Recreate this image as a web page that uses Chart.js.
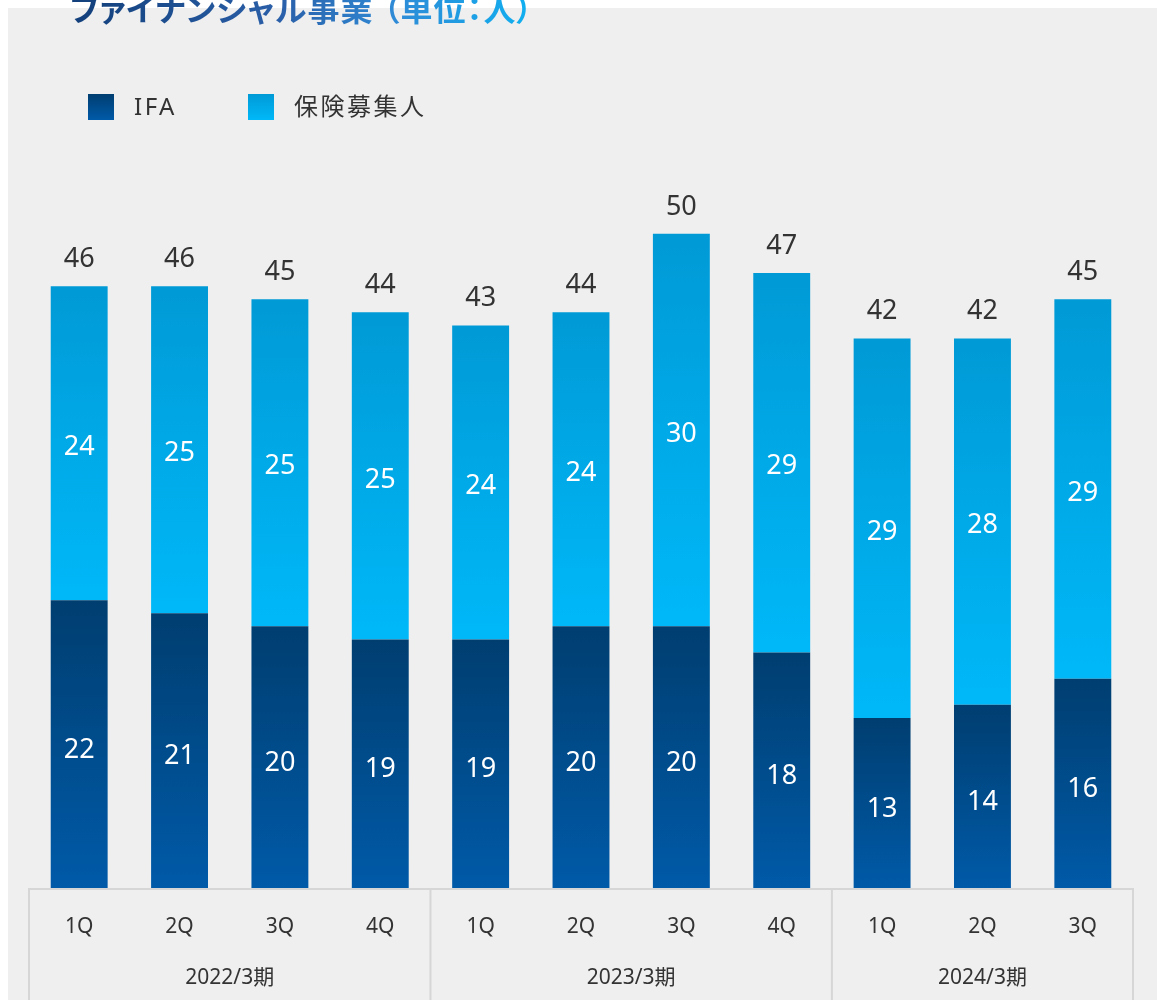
<!DOCTYPE html>
<html lang="ja">
<head>
<meta charset="utf-8">
<script src="https://cdn.jsdelivr.net/npm/chart.js@4/dist/chart.umd.min.js"></script>
<style>
  html, body { margin: 0; padding: 0; background: #ffffff; overflow: hidden; }
  #wrap { position: relative; width: 1157px; height: 1000px; }
  #panel { position: absolute; left: 8px; top: 8px; width: 1149px; height: 992px; background: #efefef; }
  #title {
    position: absolute; left: 70px; top: -16px; margin: 0;
    font-family: "Noto Sans CJK JP", sans-serif; font-weight: 700; font-size: 32px;
    white-space: nowrap;
    background: linear-gradient(90deg, #123f7a 0%, #2a5fa8 45%, #2f8ad6 70%, #0fb0f0 100%);
    -webkit-background-clip: text; background-clip: text; color: transparent;
  }
  #title .k { font-feature-settings: "palt"; letter-spacing: 1px; }
  #title .u { font-feature-settings: "palt"; letter-spacing: 1px; margin-left: 10px; }
  canvas { position: absolute; left: 0; top: 0; }
</style>
</head>
<body>
<div id="wrap">
  <div id="panel"></div>
  <h1 id="title"><span class="k">ファイナンシャル事業</span><span class="u">（単位：人）</span></h1>
  <canvas id="chart" width="1157" height="1000"></canvas>
</div>
<script>
// data
const quarters = ["1Q", "2Q", "3Q", "4Q", "1Q", "2Q", "3Q", "4Q", "1Q", "2Q", "3Q"];
const fiscalYears = ["2022/3期", "2023/3期", "2024/3期"];
const quartersPerYear = [4, 4, 3];
const ifa = [22, 21, 20, 19, 19, 20, 20, 18, 13, 14, 16];
const agents = [24, 25, 25, 25, 24, 24, 30, 29, 29, 28, 29];
const totals = [46, 46, 45, 44, 43, 44, 50, 47, 42, 42, 45];

const latin = '"Noto Sans", "Open Sans", sans-serif';
const jp = '"Noto Sans", "Noto Sans CJK JP", sans-serif';

// vertical gradient for each bar segment, worked out from the y scale
function segGradient(ctx, topColor, bottomColor, stacked) {
  const chart = ctx.chart;
  const y = chart.scales.y;
  if (!y || ctx.dataIndex === undefined) return bottomColor;
  const base = stacked ? ifa[ctx.dataIndex] : 0;
  const val = stacked ? agents[ctx.dataIndex] : ifa[ctx.dataIndex];
  const y0 = y.getPixelForValue(base + val);
  const y1 = y.getPixelForValue(base);
  if (!isFinite(y0) || !isFinite(y1) || y0 === y1) return bottomColor;
  const g = chart.ctx.createLinearGradient(0, y0, 0, y1);
  g.addColorStop(0, topColor);
  g.addColorStop(1, bottomColor);
  return g;
}

const legendItems = [
  { text: "IFA", top: "#003e70", bottom: "#005aa8", box: 88, label: 134 },
  { text: "保険募集人", top: "#009ad6", bottom: "#00b8f8", box: 248, label: 294 }
];

const decorPlugin = {
  id: 'decor',
  afterDraw(chart) {
    const ctx = chart.ctx;
    const x = chart.scales.x;
    const y = chart.scales.y;
    const area = chart.chartArea;

    // legend
    ctx.save();
    legendItems.forEach(it => {
      const g = ctx.createLinearGradient(0, 94, 0, 120);
      g.addColorStop(0, it.top);
      g.addColorStop(1, it.bottom);
      ctx.fillStyle = g;
      ctx.fillRect(it.box, 94, 26, 26);
      ctx.fillStyle = '#333333';
      ctx.font = '24px ' + jp;
      ctx.letterSpacing = '2.5px';
      ctx.textBaseline = 'middle';
      ctx.textAlign = 'left';
      ctx.fillText(it.text, it.label, 108);
    });
    ctx.letterSpacing = '0px';

    // values inside the segments and totals on top
    ctx.font = '27px ' + latin;
    ctx.textAlign = 'center';
    ctx.textBaseline = 'middle';
    quarters.forEach((q, i) => {
      const cx = x.getPixelForValue(i);
      ctx.fillStyle = '#ffffff';
      const a0 = y.getPixelForValue(0), a1 = y.getPixelForValue(ifa[i]);
      ctx.fillText(String(ifa[i]), cx, (a0 + a1) / 2 + 6);
      const b1 = y.getPixelForValue(ifa[i] + agents[i]);
      ctx.fillText(String(agents[i]), cx, (a1 + b1) / 2 + 4);
      ctx.fillStyle = '#333333';
      ctx.fillText(String(totals[i]), cx, y.getPixelForValue(totals[i]) - 27);
    });

    // category box under the bars
    const boxTop = area.bottom;
    const boxBottom = chart.height + 2;
    ctx.strokeStyle = '#d6d6d6';
    ctx.lineWidth = 2;
    ctx.beginPath();
    ctx.moveTo(area.left, boxBottom);
    ctx.lineTo(area.left, boxTop + 1);
    ctx.lineTo(area.right, boxTop + 1);
    ctx.lineTo(area.right, boxBottom);
    let start = 0;
    quartersPerYear.forEach((n, k) => {
      const end = start + n;
      if (k < quartersPerYear.length - 1) {
        const sx = (x.getPixelForValue(end - 1) + x.getPixelForValue(end)) / 2;
        ctx.moveTo(sx, boxTop + 1);
        ctx.lineTo(sx, boxBottom);
      }
      start = end;
    });
    ctx.stroke();

    // fiscal year labels
    ctx.fillStyle = '#333333';
    ctx.font = '21px ' + jp;
    start = 0;
    quartersPerYear.forEach((n, k) => {
      const left = k === 0 ? area.left : (x.getPixelForValue(start - 1) + x.getPixelForValue(start)) / 2;
      const end = start + n;
      const right = k === quartersPerYear.length - 1 ? area.right : (x.getPixelForValue(end - 1) + x.getPixelForValue(end)) / 2;
      ctx.fillText(fiscalYears[k], (left + right) / 2, 978);
      start = end;
    });
    ctx.restore();
  }
};

const chart = new Chart(document.getElementById('chart'), {
  type: 'bar',
  data: {
    labels: quarters,
    datasets: [{
      label: 'IFA',
      data: ifa,
      backgroundColor: (c) => segGradient(c, '#003e70', '#005aa8', false),
      barPercentage: 0.567,
      categoryPercentage: 1.0
    }, {
      label: '保険募集人',
      data: agents,
      backgroundColor: (c) => segGradient(c, '#009ad6', '#00b8f8', true),
      barPercentage: 0.567,
      categoryPercentage: 1.0
    }]
  },
  plugins: [decorPlugin],
  options: {
    responsive: false,
    animation: false,
    layout: { padding: { top: 103, left: 29, right: 24, bottom: 0 } },
    plugins: {
      legend: { display: false },
      tooltip: { enabled: false }
    },
    scales: {
      x: {
        stacked: true,
        grid: { display: false, drawTicks: false },
        border: { display: false },
        ticks: {
          color: '#333333',
          font: { size: 21, family: latin },
          padding: 26,
          maxRotation: 0,
          autoSkip: false
        },
        afterFit: (scale) => { scale.height = 112; }
      },
      y: {
        stacked: true,
        display: false,
        min: 0,
        max: 60
      }
    }
  }
});
</script>
</body>
</html>
